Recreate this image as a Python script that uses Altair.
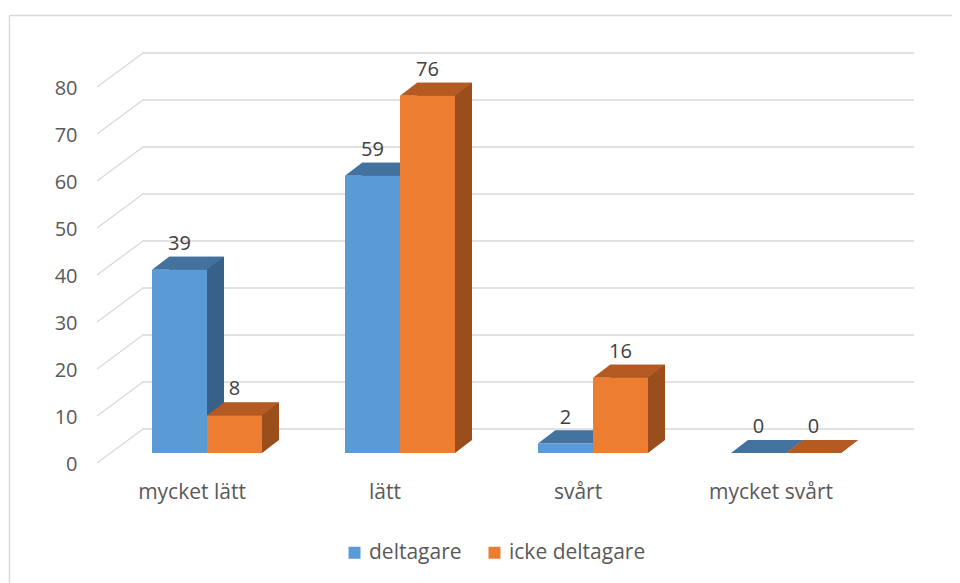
import altair as alt
import pandas as pd

# ---- data ----
categories = ["mycket lätt", "lätt", "svårt", "mycket svårt"]
series = ["deltagare", "icke deltagare"]
deltagare = [39, 59, 2, 0]
icke_deltagare = [8, 76, 16, 0]
y_ticks = [0, 10, 20, 30, 40, 50, 60, 70, 80]

# ---- style ----
front_colors = ["#5B9BD5", "#ED7D31"]
top_colors = ["#43729F", "#B35B22"]
side_colors = ["#38618A", "#9A4E1C"]
GRID = "#D9D9D9"
TXT = "#595959"
FONT = "Open Sans"
W, H = 944, 575
DX, DY = 17, 13          # depth of the 3-D boxes (px)
WALL = 24                # back wall shift (px)

rows = []
for c, a, b in zip(categories, deltagare, icke_deltagare):
    rows.append({"kategori": c, "serie": series[0], "varde": a})
    rows.append({"kategori": c, "serie": series[1], "varde": b})
df = pd.DataFrame(rows)
ticks_df = pd.DataFrame({"v": y_ticks})
one = pd.DataFrame({"a": [0]})

X_RANGE = [102.5, 874.5]


def xs(shift=0):
    return alt.Scale(domain=categories, range=[X_RANGE[0] + shift, X_RANGE[1] + shift],
                     paddingInner=0.43, paddingOuter=0.215)


xo_scale = alt.Scale(domain=series, range=[0, 110], paddingInner=0, paddingOuter=0)
y_scale = alt.Scale(domain=[0, 80], range=[445, 69], nice=False, zero=True)


def X(shift=0, axis=None):
    return alt.X("kategori:N", scale=xs(shift), sort=categories, axis=axis, title=None)


XO = alt.XOffset("serie:N", scale=xo_scale, sort=series)
Ynone = alt.Y("varde:Q", scale=y_scale, axis=None)


def col(colors, legend=None):
    return alt.Color("serie:N", scale=alt.Scale(domain=series, range=colors),
                     sort=series, legend=legend)


# chart border
border_top = alt.Chart(one).mark_rule(color=GRID, strokeWidth=1.5).encode(
    x=alt.value(1.5), x2=alt.value(W), y=alt.value(7.5))
border_left = alt.Chart(one).mark_rule(color=GRID, strokeWidth=1.5).encode(
    x=alt.value(1.5), y=alt.value(7.5), y2=alt.value(H))

# back wall gridlines
grid_back = alt.Chart(ticks_df).mark_rule(color=GRID, strokeWidth=1.3, yOffset=-WALL).encode(
    y=alt.Y("v:Q", scale=y_scale, axis=None), x=alt.value(134), x2=alt.value(906))
grid_side = alt.Chart(ticks_df).mark_rule(color=GRID, strokeWidth=1.3, yOffset=10,
                                          y2Offset=-WALL).encode(
    y=alt.Y("v:Q", scale=y_scale, axis=None), y2=alt.Y2("v"),
    x=alt.value(89), x2=alt.value(135))

# side faces (shifted boxes)
side = alt.Chart(df).mark_bar(yOffset=-DY, y2Offset=-DY).encode(
    x=X(DX), xOffset=XO, y=Ynone, color=col(side_colors))

tri_path = f"M27.5,0 L27.5,-{DY} L{27.5 + DX},-{DY} Z"
side_bottom = alt.Chart(df).mark_point(shape=tri_path, size=4, filled=True, opacity=1,
                                       strokeWidth=0).encode(
    x=X(), xOffset=XO, y=alt.Y("zero:Q", scale=y_scale, axis=None),
    fill=alt.Fill("serie:N", scale=alt.Scale(domain=series, range=side_colors), legend=None))
side_bottom = side_bottom.transform_calculate(zero="0")

top_path = f"M-27.5,0 L27.5,0 L{27.5 + DX},-{DY} L{-27.5 + DX},-{DY} Z"
top = alt.Chart(df).mark_point(shape=top_path, size=4, filled=True, opacity=1,
                               strokeWidth=0).encode(
    x=X(), xOffset=XO, y=Ynone, color=col(top_colors))

front = alt.Chart(df).mark_bar().encode(
    x=X(axis=alt.Axis(orient="bottom", offset=-105, domain=False, ticks=False, grid=False,
                      labelPadding=3, labelOffset=-15, labelAngle=0, labelFont=FONT,
                      labelFontSize=21, labelColor=TXT)),
    xOffset=XO,
    y=alt.Y("varde:Q", scale=y_scale, title=None,
            axis=alt.Axis(orient="left", offset=-72, domain=False, ticks=False, grid=False,
                          values=y_ticks, labelPadding=3, labelOffset=11, labelFont=FONT,
                          labelFontSize=20, labelColor=TXT)),
    color=col(front_colors, alt.Legend(orient="none", legendX=336, legendY=534,
                                       direction="horizontal", title=None,
                                       symbolType="square", symbolSize=144,
                                       symbolStrokeWidth=0, labelFont=FONT,
                                       labelFontSize=21, labelColor=TXT,
                                       labelOffset=4, columnPadding=22)))

labels = alt.Chart(df).mark_text(font=FONT, fontSize=20, color="#404040", dy=-26,
                                 baseline="middle").encode(
    x=X(), xOffset=XO, y=Ynone, text=alt.Text("varde:Q"))

chart = alt.layer(border_top, border_left, grid_back, grid_side, side, side_bottom, top,
                  front, labels).resolve_scale(
    x="independent", color="independent", fill="independent").resolve_axis(
    y="independent").properties(
    width=W, height=H, autosize=alt.AutoSizeParams(type="none"), padding=0,
    background="white").configure_view(stroke=None)

chart.save("out.html", embed_options={"renderer": "svg", "actions": False})
